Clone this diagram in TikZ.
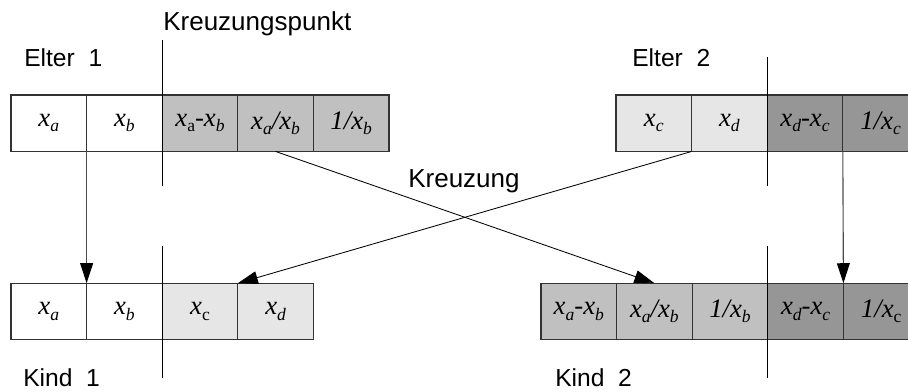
\documentclass[tikz,border=0pt]{standalone}
\usepackage{fontspec}
\setmainfont{Liberation Serif}
\setsansfont{Liberation Sans}
\usetikzlibrary{arrows.meta}
\definecolor{grauhell}{RGB}{230,230,230}
\definecolor{graumittel}{RGB}{192,192,192}
\definecolor{graudunkel}{RGB}{150,150,150}
\newcommand{\vx}[1]{x\raisebox{-0.2em}{\fontsize{12.5}{13}\selectfont #1}}
\newcommand{\vxr}[1]{x\raisebox{-0.2em}{\fontsize{12.5}{13}\selectfont\upshape #1}}

\begin{document}
\begin{tikzpicture}[x=0.025cm,y=-0.025cm,
	zelle/.style={draw=black!80,line width=0.8pt,minimum width=1.89cm,minimum height=1.4125cm,inner sep=0pt,outer sep=0pt,font=\fontsize{19}{22}\selectfont\itshape},
	pfeil/.style={->,>={Triangle[length=0.5cm,width=0.32cm,black]},line width=0.6pt},
	beschr/.style={inner sep=0pt,anchor=base west,font=\sffamily\fontsize{17.5}{20}\selectfont}]
			\clip (0,0) rectangle (908,392);
			\node[zelle,fill=white] (pa1) at (48.8,123.2){\vx{a}};
			\node[zelle,fill=white] (pa2) at (124.4,123.2){\vx{b}};
			\node[zelle,fill=graumittel] (pa3) at (200,123.2){\vxr{a}-\vx{b}};
			\node[zelle,fill=graumittel] (pa4) at (275.6,123.2){\vx{a}/\vx{b}};
			\node[zelle,fill=graumittel] (pa5) at (351.2,123.2){1/\vx{b}};
			
			\node[zelle,fill=grauhell] (pb1) at (653.8,123.2){\vx{c}};
			\node[zelle,fill=grauhell] (pb2) at (729.4,123.2){\vx{d}};
			\node[zelle,fill=graudunkel] (pb3) at (805,123.2){\vx{d}-\vx{c}};
			\node[zelle,fill=graudunkel] (pb4) at (880.6,123.2){1/\vx{c}};
			
			\node[zelle,fill=white] (ka1) at (48.8,311.5){\vx{a}};
			\node[zelle,fill=white] (ka2) at (124.4,311.5){\vx{b}};
			\node[zelle,fill=grauhell] (ka3) at (200,311.5){\vxr{c}};
			\node[zelle,fill=grauhell] (ka4) at (275.6,311.5){\vx{d}};
			
			\node[zelle,fill=graumittel] (kb1) at (578.8,311.5){\vx{a}-\vx{b}};
			\node[zelle,fill=graumittel] (kb2) at (654.4,311.5){\vx{a}/\vx{b}};
			\node[zelle,fill=graumittel] (kb3) at (730,311.5){1/\vx{b}};
			\node[zelle,fill=graudunkel] (kb4) at (805.6,311.5){\vx{d}-\vx{c}};
			\node[zelle,fill=graudunkel] (kb5) at (881.2,311.5){1/\vxr{c}};
			
			\node[beschr,font=\sffamily\fontsize{18.5}{21}\selectfont] (kpunkt) at (163,31){Kreuzungspunkt};
			\node[beschr] (elter1) at (24,67){Elter\ \ 1};
			\node[beschr] (elter2) at (632,67){Elter\ \ 2};
			\node[beschr,font=\sffamily\fontsize{18.5}{21}\selectfont] (kreuz) at (408,188){Kreuzung};
			\node[beschr] (kind1) at (23,387){Kind\ \ 1};
			\node[beschr] (kind2) at (555,387){Kind\ \ 2};
			
			\draw[line width=0.8pt] (pa3.north west) ++(0,-55) -- ++(0,146);
			\draw[line width=0.8pt] (ka3.north west) ++(0,-37) -- ++(0,132);
			\draw[line width=0.8pt] (pb3.north west) ++(0,-38) -- ++(0,129);
			\draw[line width=0.8pt] (kb4.north west) ++(0,-37) -- ++(0,132);
			
			\draw (pa1.south east) edge [pfeil,draw=black!70,line width=0.8pt] (ka1.north east);
			\draw (pa4.south) edge [pfeil] (kb2.north);
			\draw (pb1.south east) edge [pfeil] (ka3.north east);
			\draw (pb3.south east) edge [pfeil,draw=black!70,line width=0.8pt] (kb4.north east);
		\end{tikzpicture}
\end{document}
